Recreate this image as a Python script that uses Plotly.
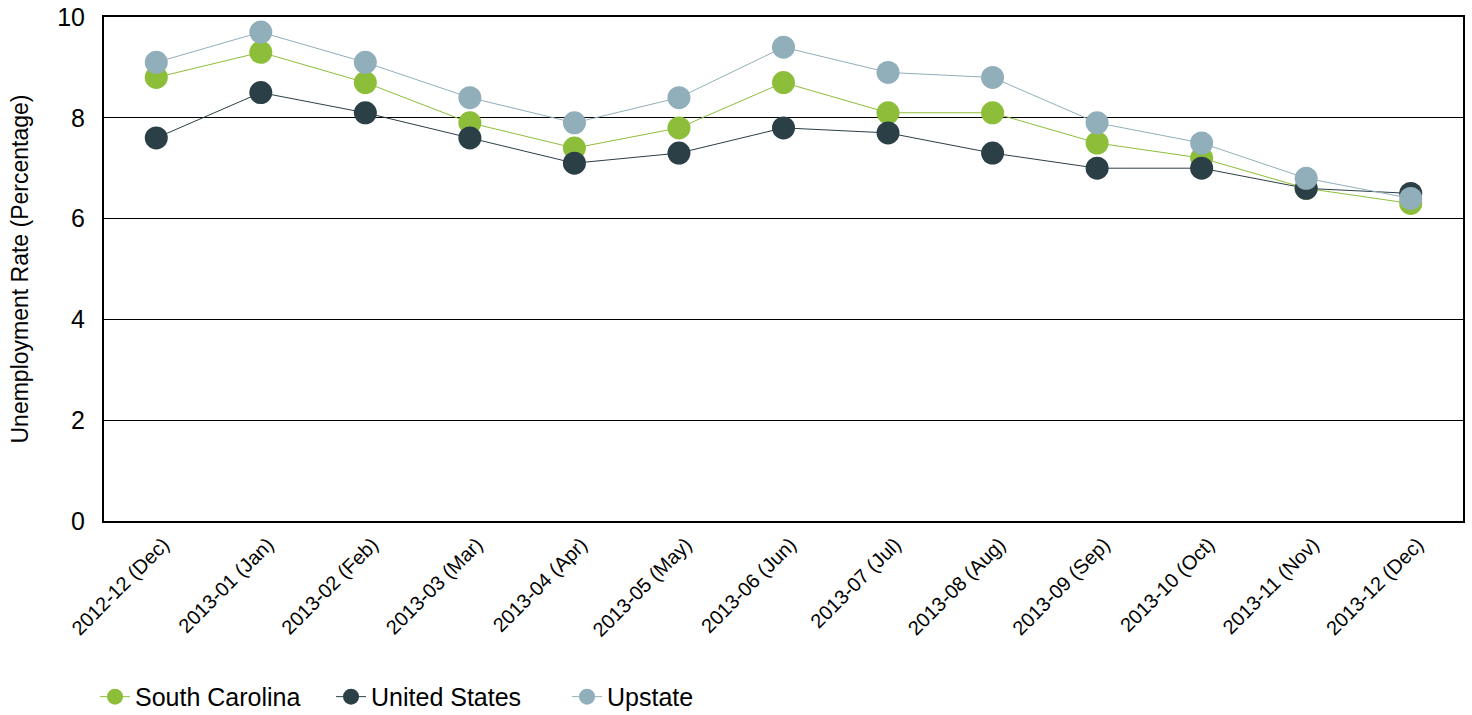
import plotly.graph_objects as go

categories = ["2012-12 (Dec)", "2013-01 (Jan)", "2013-02 (Feb)", "2013-03 (Mar)",
              "2013-04 (Apr)", "2013-05 (May)", "2013-06 (Jun)", "2013-07 (Jul)",
              "2013-08 (Aug)", "2013-09 (Sep)", "2013-10 (Oct)", "2013-11 (Nov)",
              "2013-12 (Dec)"]
south_carolina = [8.8, 9.3, 8.7, 7.9, 7.4, 7.8, 8.7, 8.1, 8.1, 7.5, 7.2, 6.6, 6.3]
united_states = [7.6, 8.5, 8.1, 7.6, 7.1, 7.3, 7.8, 7.7, 7.3, 7.0, 7.0, 6.6, 6.5]
upstate = [9.1, 9.7, 9.1, 8.4, 7.9, 8.4, 9.4, 8.9, 8.8, 7.9, 7.5, 6.8, 6.4]

series = [
    ("South Carolina", south_carolina, "#8dbe3a"),
    ("United States", united_states, "#2b3f47"),
    ("Upstate", upstate, "#91afba"),
]

fig = go.Figure()
for name, vals, color in series:
    fig.add_trace(go.Scatter(
        x=categories, y=vals, name=name, mode="lines+markers",
        line=dict(color=color, width=1),
        marker=dict(color=color, size=23),
    ))

font = "Liberation Sans, Arial, sans-serif"
fig.update_layout(
    width=1472, height=715,
    margin=dict(l=104, r=9, t=17, b=194, autoexpand=False),
    paper_bgcolor="white", plot_bgcolor="white",
    font=dict(family=font, color="black"),
    showlegend=True,
    legend=dict(orientation="h", x=-0.0066, xanchor="left", y=-0.349, yanchor="middle",
                font=dict(size=25, family=font, color="black"),
                entrywidth=191, entrywidthmode="pixels", tracegroupgap=0),
    xaxis=dict(type="category", range=[-0.5, 12.5], tickangle=-45,
               tickfont=dict(size=20), showgrid=False, automargin=False,
               showline=True, linecolor="black", linewidth=2, mirror=True,
               ticks="", ticklen=0, ticklabelstandoff=2, ticklabelshift=7,
               ticklabeloverflow="allow"),
    yaxis=dict(range=[0, 10], tickvals=[0, 2, 4, 6, 8, 10],
               tickfont=dict(size=25), automargin=False,
               showgrid=True, gridcolor="black", gridwidth=1,
               showline=True, linecolor="black", linewidth=2, mirror=True,
               zeroline=False, ticklabelstandoff=12, ticklabeloverflow="allow",
               title=dict(text="Unemployment Rate (Percentage)", font=dict(size=23), standoff=22),
               ticks="", ticklen=0),
)

fig.write_html("out.html", config={"displayModeBar": False},
               post_script="document.body.style.margin='0px';document.body.style.overflow='hidden';")
